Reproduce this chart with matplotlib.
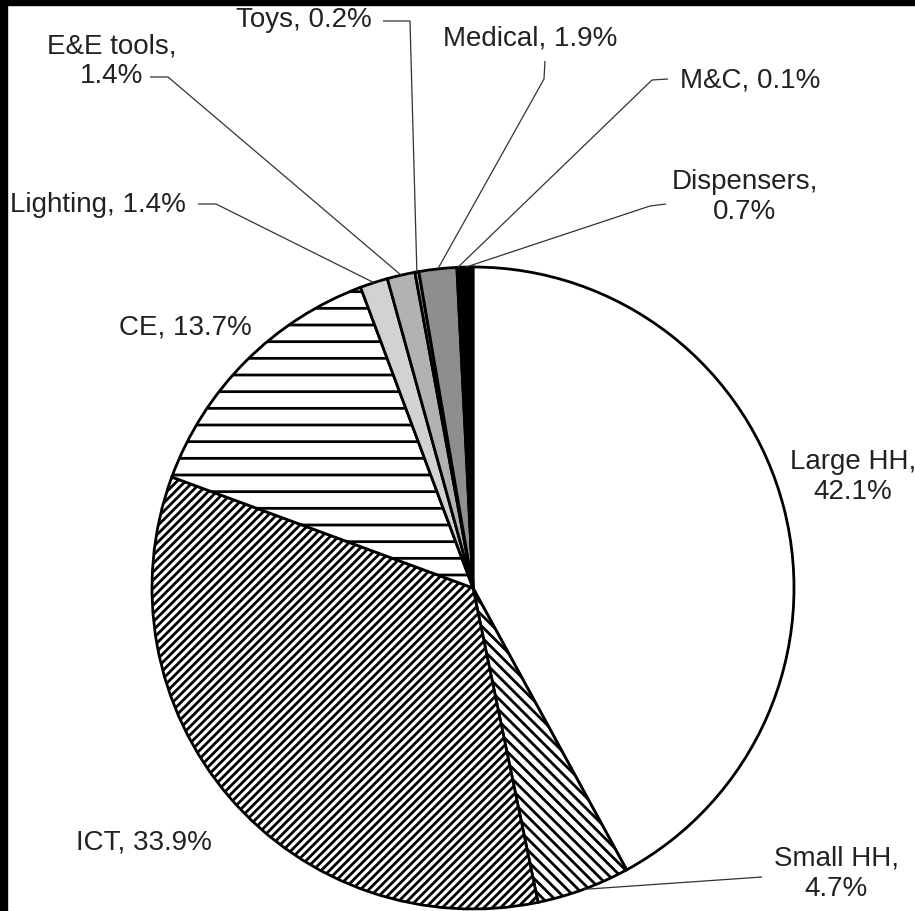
import matplotlib
matplotlib.use("Agg")
import matplotlib.pyplot as plt
from matplotlib.patches import Rectangle
import numpy as np

# WEEE categories, clockwise from 12 o'clock
categorias = ['Large HH', 'Small HH', 'ICT', 'CE', 'Lighting', 'E&E tools',
              'Toys', 'Medical', 'M&C', 'Dispensers']
valores = [42.1, 4.7, 33.9, 13.7, 1.4, 1.4, 0.2, 1.9, 0.1, 0.7]

cores = ['white', 'white', 'white', 'white', '#d2d2d2', '#b2b2b2',
         '#9c9c9c', '#8e8e8e', '#555555', 'black']
hachuras = [None, '\\\\\\', '////', '-', None, None, None, None, None, None]

H = 912  # altura da imagem em pixels, para converter y de cima para baixo

plt.rcParams['font.family'] = ['Liberation Sans', 'DejaVu Sans']
plt.rcParams['hatch.linewidth'] = 2.0

fig = plt.figure(figsize=(9.15, 9.12), dpi=100)
ax = fig.add_axes([0, 0, 1, 1])

centro = (473, H - 589)
raio = 321
fatias, _ = ax.pie(valores, colors=cores, startangle=90, counterclock=False,
                   center=centro, radius=raio, frame=True,
                   wedgeprops=dict(edgecolor='black', linewidth=2.0))
for w, h in zip(fatias, hachuras):
    if h:
        w.set_hatch(h)

ax.set_xlim(0, 915)
ax.set_ylim(0, H)
ax.set_aspect('equal')
ax.axis('off')


def ponto_borda(i):
    w = fatias[i]
    ang = np.deg2rad((w.theta1 + w.theta2) / 2)
    return w.center[0] + w.r * np.cos(ang), w.center[1] + w.r * np.sin(ang)


estilo = dict(fontsize=20, color='#222222', ha='center', va='center',
              multialignment='center')

# rotulos: (texto, x, y imagem)
rotulos = {
    'Large HH': ('Large HH,\n42.1%', 853, 477),
    'Small HH': ('Small HH,\n4.7%', 836, 874),
    'ICT': ('ICT, 33.9%', 144, 843),
    'CE': ('CE, 13.7%', 185, 327),
    'Lighting': ('Lighting, 1.4%', 98, 205),
    'E&E tools': ('E&E tools,\n1.4%', 112, 61),
    'Toys': ('Toys, 0.2%', 304, 20),
    'Medical': ('Medical, 1.9%', 530, 38),
    'M&C': ('M&C, 0.1%', 750, 80),
    'Dispensers': ('Dispensers,\n0.7%', 745, 197),
}
for nome, (txt, x, y) in rotulos.items():
    ax.text(x, H - y, txt, **estilo)

# linhas de chamada: pontos de quebra perto do texto (coordenadas de imagem)
chamadas = {
    'Toys': [(383, 22), (410, 22)],
    'Medical': [(545, 62), (544, 80)],
    'M&C': [(668, 80), (652, 81)],
    'Dispensers': [(666, 205), (650, 207)],
    'Lighting': [(198, 205), (216, 205)],
    'E&E tools': [(150, 78), (168, 78)],
    'Small HH': [(762, 878)],
}
for nome, pts in chamadas.items():
    bx, by = ponto_borda(categorias.index(nome))
    xs = [p[0] for p in pts] + [bx]
    ys = [H - p[1] for p in pts] + [by]
    ax.plot(xs, ys, color='#333333', lw=0.9, solid_capstyle='butt')

# moldura preta em cima e a esquerda
fig.add_artist(Rectangle((0, 1 - 6 / H), 1, 6 / H, transform=fig.transFigure,
                         color='black', zorder=10))
fig.add_artist(Rectangle((0, 0), 7 / 915, 1, transform=fig.transFigure,
                         color='black', zorder=10))

fig.savefig('out.png', dpi=100, facecolor='white')
